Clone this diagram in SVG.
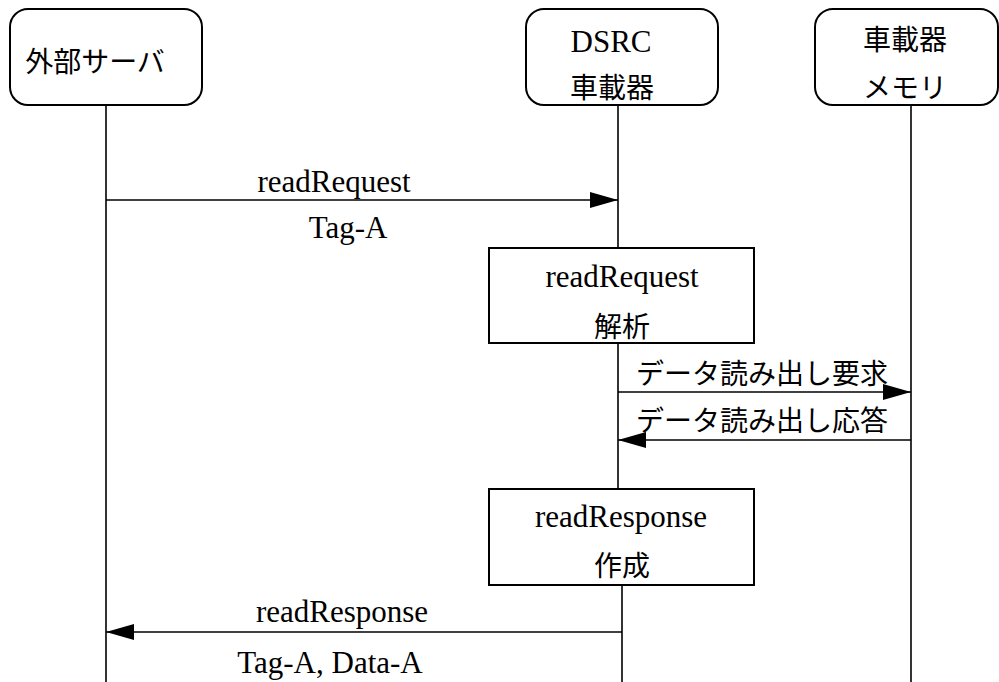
<svg xmlns="http://www.w3.org/2000/svg" width="999" height="682" viewBox="0 0 999 682">
<style>
.box{fill:#fff;stroke:#000;stroke-width:2}
.ln{stroke:#000;stroke-width:1.6;fill:none}
.jp{font-family:"Noto Sans CJK JP","Noto Sans",sans-serif;font-size:28px;fill:#000;text-anchor:middle}
.en{font-family:"Liberation Serif","DejaVu Serif",serif;font-size:31px;fill:#000;text-anchor:middle}
</style>
<defs>
<marker id="ah" viewBox="0 0 28 16" refX="28" refY="8" markerWidth="28" markerHeight="16" markerUnits="userSpaceOnUse" orient="auto">
<path d="M0,0 L28,8 L0,16 z" fill="#000"/>
</marker>
</defs>
<g id="lifelines">
<line class="ln" x1="106" y1="105" x2="106" y2="682"/>
<line class="ln" x1="618" y1="105" x2="618" y2="248"/>
<line class="ln" x1="618" y1="343" x2="618" y2="489"/>
<line class="ln" x1="622" y1="585" x2="622" y2="682"/>
<line class="ln" x1="911" y1="105" x2="911" y2="682"/>
</g>
<g id="server">
<rect class="box" x="10" y="9" width="192" height="96" rx="18"/>
<text class="jp" x="95" y="72">外部サーバ</text>
</g>
<g id="dsrc">
<rect class="box" x="526" y="9" width="192" height="96" rx="18"/>
<text class="en" x="611" y="52">DSRC</text>
<text class="jp" x="612" y="98">車載器</text>
</g>
<g id="memory">
<rect class="box" x="815" y="9" width="183" height="96" rx="18"/>
<text class="jp" x="905" y="50">車載器</text>
<text class="jp" x="905" y="98">メモリ</text>
</g>
<g id="parse">
<rect class="box" x="489" y="248" width="265" height="95"/>
<text class="en" x="622" y="287">readRequest</text>
<text class="jp" x="622" y="337">解析</text>
</g>
<g id="create">
<rect class="box" x="489" y="489" width="265" height="96"/>
<text class="en" x="621" y="527">readResponse</text>
<text class="jp" x="622" y="576">作成</text>
</g>
<g id="connectors">
<line class="ln" x1="106" y1="200" x2="618" y2="200" marker-end="url(#ah)"/>
<line class="ln" x1="618" y1="392" x2="911" y2="392" marker-end="url(#ah)"/>
<line class="ln" x1="911" y1="440" x2="618" y2="440" marker-end="url(#ah)"/>
<line class="ln" x1="622" y1="632" x2="106" y2="632" marker-end="url(#ah)"/>
<text class="en" x="334" y="192">readRequest</text>
<text class="en" x="348" y="238">Tag-A</text>
<text class="jp" x="762" y="384">データ読み出し要求</text>
<text class="jp" x="762" y="431">データ読み出し応答</text>
<text class="en" x="342" y="622">readResponse</text>
<text class="en" x="330" y="673">Tag-A, Data-A</text>
</g>
</svg>
